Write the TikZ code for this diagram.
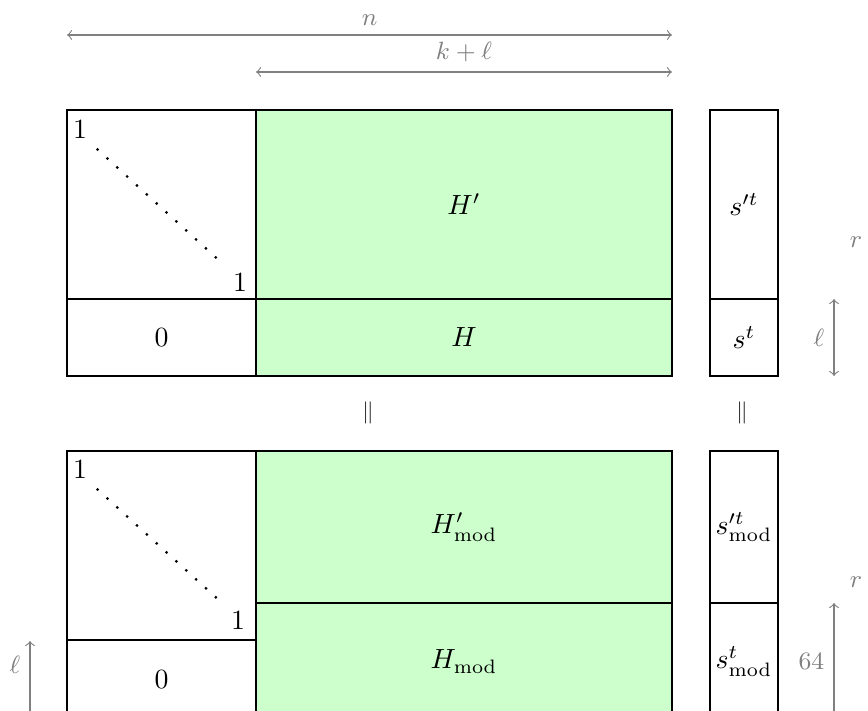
\documentclass[tikz,border=0pt]{standalone}
\usetikzlibrary{positioning}

\tikzset{
  grn/.style={fill=green!20, draw=black},
  dim/.style={<->, gray},
  dimlabel/.style={gray, font=\small},
  eqsign/.style={font=\footnotesize, black!80},
}

\begin{document}
\begin{tikzpicture}[x=0.36pt,y=-0.36pt]
                \useasboundingbox (0,0) rectangle (868,711);
                \clip (0,0) rectangle (868,711);

                % widths
                \coordinate (nL) at (67,35);
                \coordinate (nR) at (672,35);
                \coordinate (klL) at (256,72);
                \coordinate (klR) at (672,72);
                \draw[dim] (nL) -- node[above, dimlabel] (nlab) {$n$} (nR);
                \draw[dim] (klL) -- node[above, dimlabel] (kllab) {$k+\ell$} (klR);

                % upper matrix
                \draw (67,110) rectangle (256,299);
                \node (oneA) at (80,130) {$1$};
                \node (oneB) at (240,283) {$1$};
                \draw[loosely dotted, thick] (oneA.south east) -- (oneB.north west);
                \draw (67,299) rectangle (256,376) node[pos=.5] (zero) {$0$};
                \filldraw[grn] (256,110) rectangle (672,299) node[pos=.5] (Hp) {$H'$};
                \filldraw[grn] (256,299) rectangle (672,376) node[pos=.5] (H) {$H$};
                \draw (710,110) rectangle (778,299) node[pos=.5] (sp) {$s'^t$};
                \draw (710,299) rectangle (778,376) node[pos=.5] (s) {$s^t$};

                \node[dimlabel] (rA) at (856,242) {$r$};
                \coordinate (lA) at (834,299);
                \coordinate (lB) at (834,376);
                \draw[dim] (lA) -- node[left, dimlabel] (llab) {$\ell$} (lB);

                \node[eqsign] (eqA) at (368,413) {$\|$};
                \node[eqsign] (eqB) at (742,413) {$\|$};

                % lower matrix
                \draw (67,451) rectangle (256,640);
                \node (oneC) at (80,470) {$1$};
                \node (oneD) at (238,621) {$1$};
                \draw[loosely dotted, thick] (oneC.south east) -- (oneD.north west);
                \draw (67,640) rectangle (256,720) node[pos=.5] (zeromod) {$0$};
                \filldraw[grn] (256,451) rectangle (672,603) node[pos=.5] (Hpmod) {$H'_{\mathrm{mod}}$};
                \filldraw[grn] (256,603) rectangle (672,720) node[pos=.5] (Hmod) {$H_{\mathrm{mod}}$};
                \draw (710,451) rectangle (778,603) node[pos=.5] (spmod) {$s'^t_{\mathrm{mod}}$};
                \draw (710,603) rectangle (778,720) node[pos=.5, inner sep=1pt] (smod) {$s^t_{\mathrm{mod}}$};

                \node[dimlabel] (rB) at (856,582) {$r$};
                \coordinate (sA) at (834,603);
                \coordinate (sB) at (834,720);
                \draw[dim] (sB) -- node[left, dimlabel] (sixtyfour) {$64$} (sA);
                \coordinate (zA) at (30,641);
                \coordinate (zB) at (30,720);
                \draw[dim] (zB) -- node[pos=.7, left, dimlabel] (lC) {$\ell$} (zA);
\end{tikzpicture}
\end{document}
